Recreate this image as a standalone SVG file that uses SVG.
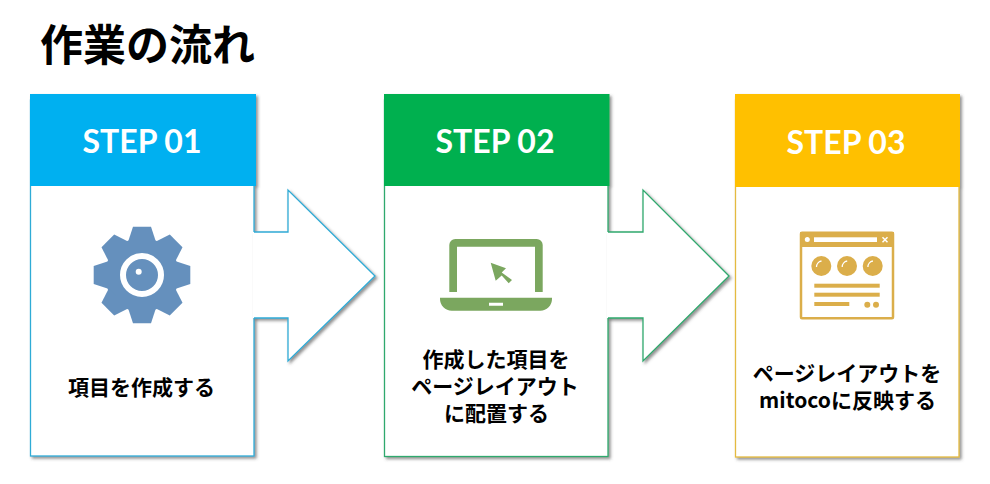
<svg xmlns="http://www.w3.org/2000/svg" xmlns:xlink="http://www.w3.org/1999/xlink" width="990" height="484" viewBox="0 0 990 484">
<style>
.bg{fill:#fff}
.title{font:700 43px "Noto Sans CJK JP","Noto Sans",sans-serif;fill:#000}
.step{font:700 32px Lato,"Open Sans",sans-serif;fill:#fff;text-anchor:middle}
.body{font:700 21px "Noto Sans CJK JP","Noto Sans",sans-serif;fill:#000;text-anchor:middle}
.card{fill:#fff;stroke-width:1.3}
.fillw{fill:#fff}
.line{fill:none;stroke-width:1.3;stroke-linejoin:miter}
.s1{stroke:#2FABD6}.s2{stroke:#2FA96E}.s3{stroke:#E4BA41}
.gear{fill:#6590BD}.lap{fill:#7BA75F}.win{fill:#DBAE4A}
</style>
<defs>
<filter id="sh" x="-10%" y="-10%" width="120%" height="120%">
<feDropShadow dx="2" dy="2" stdDeviation="1.6" flood-color="#4a4a4a" flood-opacity=".6"/>
</filter>
<polygon id="tooth" points="128,242 133,226.7 151,226.7 156,242"/>
</defs>
<rect class="bg" width="990" height="484"/>
<text class="title" x="40" y="61">作業の流れ</text>

<g id="step1" filter="url(#sh)">
<rect class="card s1" x="30.5" y="100" width="223.5" height="356"/>
<rect x="30" y="94" width="226" height="92" fill="#00B0F0"/>
</g>
<g id="step2" filter="url(#sh)">
<rect class="card s2" x="384.5" y="100" width="223.5" height="356.5"/>
<rect x="384" y="94" width="225.5" height="92" fill="#00B050"/>
</g>
<g id="step3" filter="url(#sh)">
<rect class="card s3" x="735.5" y="100" width="223.5" height="357"/>
<rect x="735" y="94" width="225" height="93" fill="#FFC000"/>
</g>

<g id="connectors">
<g filter="url(#sh)">
<polygon class="fillw" points="253,232 288,232 288,190 375,276 288,361 288,318 253,318"/>
<polyline class="line s1" points="254,232 288,232 288,190 375,276 288,361 288,318 254,318"/>
</g>
<g filter="url(#sh)">
<polygon class="fillw" points="607,232 643,232 643,190 729,276 643,361 643,318 607,318"/>
<polyline class="line s2" points="608,232 643,232 643,190 729,276 643,361 643,318 608,318"/>
</g>
</g>

<g id="step1-content">
<text class="step" x="142" y="153">STEP 01</text>
<g class="gear">
<circle cx="142" cy="275" r="37"/>
<use xlink:href="#tooth" href="#tooth"/>
<use xlink:href="#tooth" href="#tooth" transform="rotate(45 142 275)"/>
<use xlink:href="#tooth" href="#tooth" transform="rotate(90 142 275)"/>
<use xlink:href="#tooth" href="#tooth" transform="rotate(135 142 275)"/>
<use xlink:href="#tooth" href="#tooth" transform="rotate(180 142 275)"/>
<use xlink:href="#tooth" href="#tooth" transform="rotate(225 142 275)"/>
<use xlink:href="#tooth" href="#tooth" transform="rotate(270 142 275)"/>
<use xlink:href="#tooth" href="#tooth" transform="rotate(315 142 275)"/>
</g>
<circle cx="142" cy="275" r="19" fill="none" stroke="#fff" stroke-width="6"/>
<circle cx="138.7" cy="271.7" r="3" fill="#fff"/>
<text class="body" x="141.5" y="395">項目を作成する</text>
</g>

<g id="step2-content">
<text class="step" x="495" y="153">STEP 02</text>
<path class="lap" fill-rule="evenodd" d="M449.3 292V245a6 6 0 0 1 6-6H536.700a6 6 0 0 1 6 6V292H535V246.700H457V292Z"/>
<path class="lap" fill-rule="evenodd" d="M440 297.700H552V299a11.700 11.700 0 0 1-11.700 11.700H451.700A11.700 11.700 0 0 1 440 299ZM489 302.700V305.700H503V302.700Z"/>
<polygon class="lap" points="490.700,262.700 506,268.300 501.700,272.500 512,280 508.700,283.300 501.700,275.500 495.700,280.700"/>
<text class="body" x="496" y="367">作成した項目を</text>
<text class="body" x="495" y="394">ページレイアウト</text>
<text class="body" x="496.500" y="421">に配置する</text>
</g>

<g id="step3-content">
<text class="step" x="846" y="154">STEP 03</text>
<rect x="801" y="232.700" width="92" height="85.500" rx="1" fill="none" stroke="#DBAE4A" stroke-width="2.500"/>
<rect class="win" x="800" y="232" width="94" height="15"/>
<circle cx="807.300" cy="239.500" r="2.500" fill="#fff"/>
<rect x="814" y="237.300" width="63" height="4.700" fill="#fff"/>
<path d="M882.500 237.200L887.500 242.200M887.500 237.200L882.500 242.200" stroke="#fff" stroke-width="1.500" fill="none"/>
<circle class="win" cx="821.300" cy="266" r="10"/>
<circle class="win" cx="847" cy="266" r="10"/>
<circle class="win" cx="872.700" cy="266" r="10"/>
<path d="M816.500 267a6 6 0 0 1 5-6M842.200 267a6 6 0 0 1 5-6M867.900 267a6 6 0 0 1 5-6" fill="none" stroke="#fff" stroke-width="1.300"/>
<rect class="win" x="814.300" y="283.700" width="65.400" height="4"/>
<rect class="win" x="814.300" y="292.700" width="65.400" height="4"/>
<rect class="win" x="814.300" y="302" width="35" height="4"/>
<circle class="win" cx="867.300" cy="304.700" r="3"/>
<circle class="win" cx="876" cy="304.700" r="3"/>
<text class="body" x="847" y="381">ページレイアウトを</text>
<text class="body" x="847.500" y="408">mitocoに反映する</text>
</g>
</svg>
